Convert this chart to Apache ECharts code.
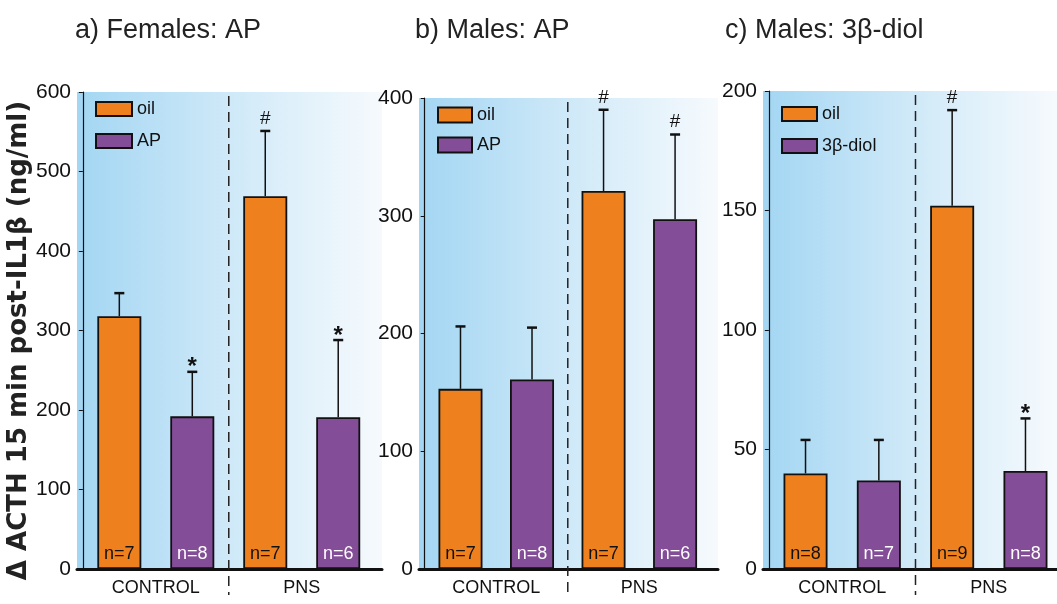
<!DOCTYPE html>
<html>
<head>
<meta charset="utf-8">
<script src="https://cdn.jsdelivr.net/npm/echarts@6/dist/echarts.min.js"></script>
<style>html,body{margin:0;padding:0;background:#fff}#c{width:1057px;height:604px}</style>
</head>
<body>
<div id="c"></div>
<script>
// ---------- data ----------
const groups = ['CONTROL', 'PNS'];

// a) Females: AP
const oilA = [318, 469];
const oilAErr = [29, 82];
const apA = [192, 191];
const apAErr = [56, 97];
const nOilA = [7, 7];
const nApA = [8, 6];
const sigOilA = ['', '#'];
const sigApA = ['*', '*'];

// b) Males: AP
const oilB = [153, 321];
const oilBErr = [53, 69];
const apB = [161, 297];
const apBErr = [44, 72];
const nOilB = [7, 7];
const nApB = [8, 6];
const sigOilB = ['', '#'];
const sigApB = ['', '#'];

// c) Males: 3β-diol
const oilC = [40, 152];
const oilCErr = [14, 40];
const diolC = [37, 41];
const diolCErr = [17, 22];
const nOilC = [8, 9];
const nDiolC = [7, 8];
const sigOilC = ['', '#'];
const sigDiolC = ['', '*'];

const yTicksA = [0, 600, 100];
const yTicksB = [0, 400, 100];
const yTicksC = [0, 200, 50];

// ---------- styles / layout ----------
const NARROW = "'Liberation Sans Narrow', 'Arial Narrow', 'Liberation Sans', sans-serif";
const ORANGE = '#ee801d';
const PURPLE = '#834e97';

const panels = [
  { title: 'a) Females: AP', titleLeft: 75, left: 77, right: 675, top: 92, xMin: -0.08, xMax: 4.1, yt: yTicksA,
    s1: { name: 'oil', v: oilA, e: oilAErr, n: nOilA, sig: sigOilA },
    s2: { name: 'AP', v: apA, e: apAErr, n: nApA, sig: sigApA },
    legend: { left: 90, top: 95, w: 36, h: 14, gap: 14 } },
  { title: 'b) Males: AP', titleLeft: 415, left: 419, right: 339, top: 98, xMin: -0.08, xMax: 4.1, yt: yTicksB,
    s1: { name: 'oil', v: oilB, e: oilBErr, n: nOilB, sig: sigOilB },
    s2: { name: 'AP', v: apB, e: apBErr, n: nApB, sig: sigApB },
    legend: { left: 432, top: 101, w: 34, h: 15, gap: 12 } },
  { title: 'c) Males: 3β-diol', titleLeft: 725, left: 763, right: 0, top: 91, xMin: -0.08, xMax: 3.93, yt: yTicksC,
    s1: { name: 'oil', v: oilC, e: oilCErr, n: nOilC, sig: sigOilC },
    s2: { name: '3β-diol', v: diolC, e: diolCErr, n: nDiolC, sig: sigDiolC },
    legend: { left: 776, top: 100, w: 35, h: 14, gap: 14 } }
];

const option = {
  backgroundColor: '#ffffff',
  animation: false,
  title: [], grid: [], xAxis: [], yAxis: [], legend: [], series: []
};

function errSeries(pi, s, slot) {
  return {
    type: 'custom', xAxisIndex: pi, yAxisIndex: pi, z: 5, clip: false, silent: true,
    data: s.v.map((v, gi) => [2 * gi + slot, v, s.e[gi]]),
    renderItem: function (params, api) {
      const x = api.value(0), v = api.value(1), e = api.value(2);
      const b = api.coord([x, v]);
      const t = api.coord([x, v + e]);
      const ch = [
        { type: 'line', shape: { x1: b[0], y1: b[1], x2: t[0], y2: t[1] }, style: { stroke: '#111', lineWidth: 1.5 } },
        { type: 'line', shape: { x1: t[0] - 5, y1: t[1], x2: t[0] + 5, y2: t[1] }, style: { stroke: '#111', lineWidth: 2.5 } }
      ];
      const sg = s.sig[params.dataIndex];
      if (sg) {
        ch.push({ type: 'text', style: {
          text: sg, x: t[0], y: sg === '*' ? t[1] + 8 : t[1] - 3, align: 'center', verticalAlign: 'bottom',
          font: (sg === '*' ? 'bold 24px ' : '19px ') + NARROW, fill: '#111' } });
      }
      return { type: 'group', children: ch };
    }
  };
}

panels.forEach((p, pi) => {
  option.title.push({ text: p.title, left: p.titleLeft, top: 17, padding: 0,
    textStyle: { fontFamily: NARROW, fontSize: 27, fontWeight: 'normal', color: '#222' } });
  option.grid.push({ left: p.left, right: p.right, top: p.top, bottom: 35, show: true, borderWidth: 0,
    backgroundColor: { type: 'linear', x: 0, y: 0, x2: 1, y2: 0,
      colorStops: [{ offset: 0, color: '#a3d6f3' }, { offset: 0.5, color: '#cfe9f8' }, { offset: 1, color: '#f6fafd' }] } });
  option.xAxis.push({ type: 'value', gridIndex: pi, min: p.xMin, max: p.xMax,
    splitLine: { show: false }, axisTick: { show: false },
    axisLine: { show: true, lineStyle: { color: '#111', width: 3 } },
    axisLabel: { customValues: groups.map((g, gi) => 2 * gi + 1), formatter: v => groups[(v - 1) / 2],
      fontFamily: NARROW, fontSize: 18, color: '#111', margin: 10 } });
  option.yAxis.push({ type: 'value', gridIndex: pi, min: p.yt[0], max: p.yt[1], interval: p.yt[2],
    splitLine: { show: false },
    axisLine: { show: true, lineStyle: { color: '#111', width: 1.2 } },
    axisTick: { show: true, length: 4, lineStyle: { color: '#111' } },
    axisLabel: { fontFamily: NARROW, fontSize: 21, color: '#111', margin: 6 },
    name: pi === 0 ? 'Δ ACTH 15 min post-IL1β (ng/ml)' : '',
    nameLocation: 'middle', nameRotate: 90, nameGap: 44,
    nameTextStyle: { fontFamily: "'DejaVu Sans', sans-serif", fontWeight: 'bold', fontSize: 26, color: '#222',
      padding: [0, 20, 0, 0] } });
  option.legend.push({ orient: 'vertical', left: p.legend.left, top: p.legend.top,
    itemWidth: p.legend.w, itemHeight: p.legend.h, itemGap: p.legend.gap, icon: 'rect',
    data: [p.s1.name, p.s2.name], selectedMode: false,
    itemStyle: { borderColor: '#111', borderWidth: 2 },
    textStyle: { fontFamily: NARROW, fontSize: 18, color: '#111' } });

  // divider between groups
  option.series.push({
    type: 'custom', xAxisIndex: pi, yAxisIndex: pi, z: 3, clip: false, silent: true,
    data: groups.slice(1).map((g, gi) => [2 * (gi + 1), p.yt[1]]),
    renderItem: function (params, api) {
      const top = api.coord([api.value(0), api.value(1)]);
      const bot = api.coord([api.value(0), p.yt[0]]);
      return { type: 'line', shape: { x1: top[0], y1: top[1] + 4, x2: bot[0], y2: bot[1] + 26 },
        style: { stroke: '#222', lineWidth: 1.5, lineDash: [10, 6] } };
    }
  });

  [[p.s1, 0.5, ORANGE, '#111'], [p.s2, 1.5, PURPLE, '#fff']].forEach(([s, slot, col, lc]) => {
    option.series.push({
      type: 'bar', name: s.name, xAxisIndex: pi, yAxisIndex: pi, z: 4,
      barWidth: 44, barGap: '-100%',
      data: s.v.map((v, gi) => [2 * gi + slot, v]),
      itemStyle: { color: col, borderColor: '#111', borderWidth: 1.8 },
      label: { show: true, position: 'insideBottom', distance: 6,
        formatter: prm => 'n=' + s.n[prm.dataIndex],
        fontFamily: NARROW, fontSize: 18, color: lc }
    });
    option.series.push(errSeries(pi, s, slot));
  });
});

const chart = echarts.init(document.getElementById('c'), null, { renderer: 'canvas' });
chart.setOption(option);
</script>
</body>
</html>
